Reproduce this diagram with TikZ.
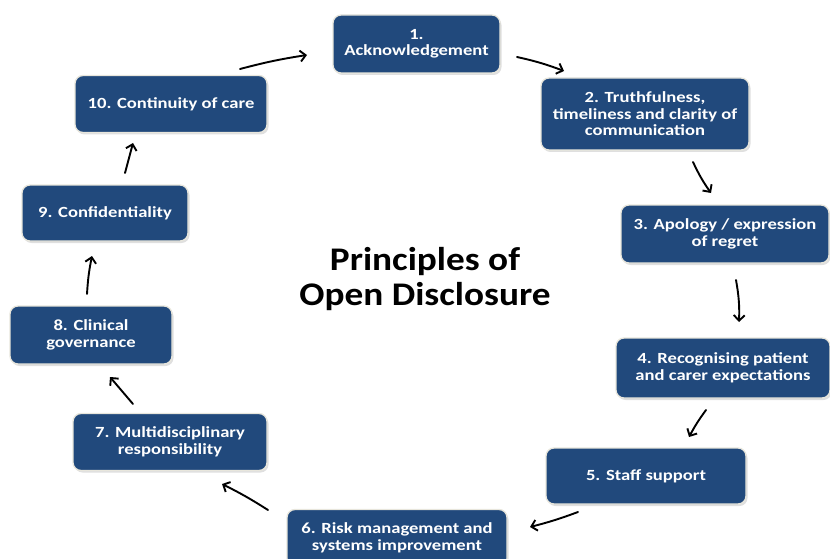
\documentclass[tikz,border=0pt]{standalone}
\usepackage{fontspec}
\newfontfamily\boxfont{Carlito}[FakeStretch=1.2]
\newfontfamily\titlefont{Carlito}[FakeStretch=1.13]
\usetikzlibrary{arrows.meta,shadows}
\definecolor{boxblue}{RGB}{33,73,124}
\definecolor{boxedge}{RGB}{232,230,220}
\tikzset{
  stepbox/.style={rectangle, rounded corners=8pt, fill=boxblue, draw=boxedge,
    line width=1.3pt, text=white, align=center, inner sep=0pt,
    font=\boxfont\bfseries\fontsize{15.5}{16.5}\selectfont,
    drop shadow={opacity=0.25, shadow xshift=1.5pt, shadow yshift=-2pt}},
  flow/.style={-{Straight Barb[length=5.5pt,width=11pt]}, line width=1.9pt, black, line cap=round},
}
\begin{document}
\begin{tikzpicture}[x=1pt,y=-1pt]
\useasboundingbox (0,0) rectangle (830,559);
\clip (0,0) rectangle (830,559);

% the ten principles, clockwise from the top
\node[stepbox, minimum width=167pt, minimum height=58pt] (n1) at (416.5,44) {1.\\Acknowledgement};
\node[stepbox, minimum width=208pt, minimum height=72pt] (n2) at (645,114) {2. Truthfulness,\\timeliness and clarity of\\communication};
\node[stepbox, minimum width=208pt, minimum height=58pt] (n3) at (725,234) {3. Apology / expression\\of regret};
\node[stepbox, minimum width=214pt, minimum height=60pt] (n4) at (723,368) {4. Recognising patient\\and carer expectations};
\node[stepbox, minimum width=200pt, minimum height=56pt] (n5) at (646,476) {5. Staff support};
\node[stepbox, minimum width=220pt, minimum height=57pt] (n6) at (397,538) {6. Risk management and\\systems improvement};
\node[stepbox, minimum width=194pt, minimum height=57pt] (n7) at (170,442) {7. Multidisciplinary\\responsibility};
\node[stepbox, minimum width=162pt, minimum height=58pt] (n8) at (91,335) {8. Clinical\\governance};
\node[stepbox, minimum width=166pt, minimum height=56pt] (n9) at (105,213) {9. Confidentiality};
\node[stepbox, minimum width=192pt, minimum height=57pt] (n10) at (171,104) {10. Continuity of care};

% centre title
\node[align=center, font=\titlefont\bfseries\fontsize{33}{35}\selectfont] (title) at (425,279)
  {Principles of\\Open Disclosure};

% arrow end points between neighbouring boxes
\coordinate (a1s) at (517,57);  \coordinate (a1e) at (564,71);
\coordinate (a2s) at (693,162); \coordinate (a2e) at (711,193);
\coordinate (a3s) at (736,280); \coordinate (a3e) at (739,322);
\coordinate (a4s) at (706,410); \coordinate (a4e) at (689,437);
\coordinate (a5s) at (578,512); \coordinate (a5e) at (530,527);
\coordinate (a6s) at (268,510); \coordinate (a6e) at (222,484);
\coordinate (a7s) at (133,404); \coordinate (a7e) at (110,377);
\coordinate (a8s) at (87,294);  \coordinate (a8e) at (92,256);
\coordinate (a9s) at (125,173); \coordinate (a9e) at (133,143);
\coordinate (a10s) at (240,69); \coordinate (a10e) at (307,55);

\draw[flow] (a1s) to[bend left=4] (a1e);
\draw[flow] (a2s) to[bend right=5] (a2e);
\draw[flow] (a3s) to[bend left=6] (a3e);
\draw[flow] (a4s) to[bend right=4] (a4e);
\draw[flow] (a5s) to[bend left=3] (a5e);
\draw[flow] (a6s) to[bend right=3] (a6e);
\draw[flow] (a7s) to (a7e);
\draw[flow] (a8s) to[bend left=4] (a8e);
\draw[flow] (a9s) to (a9e);
\draw[flow] (a10s) to[bend left=3] (a10e);
\end{tikzpicture}
\end{document}
